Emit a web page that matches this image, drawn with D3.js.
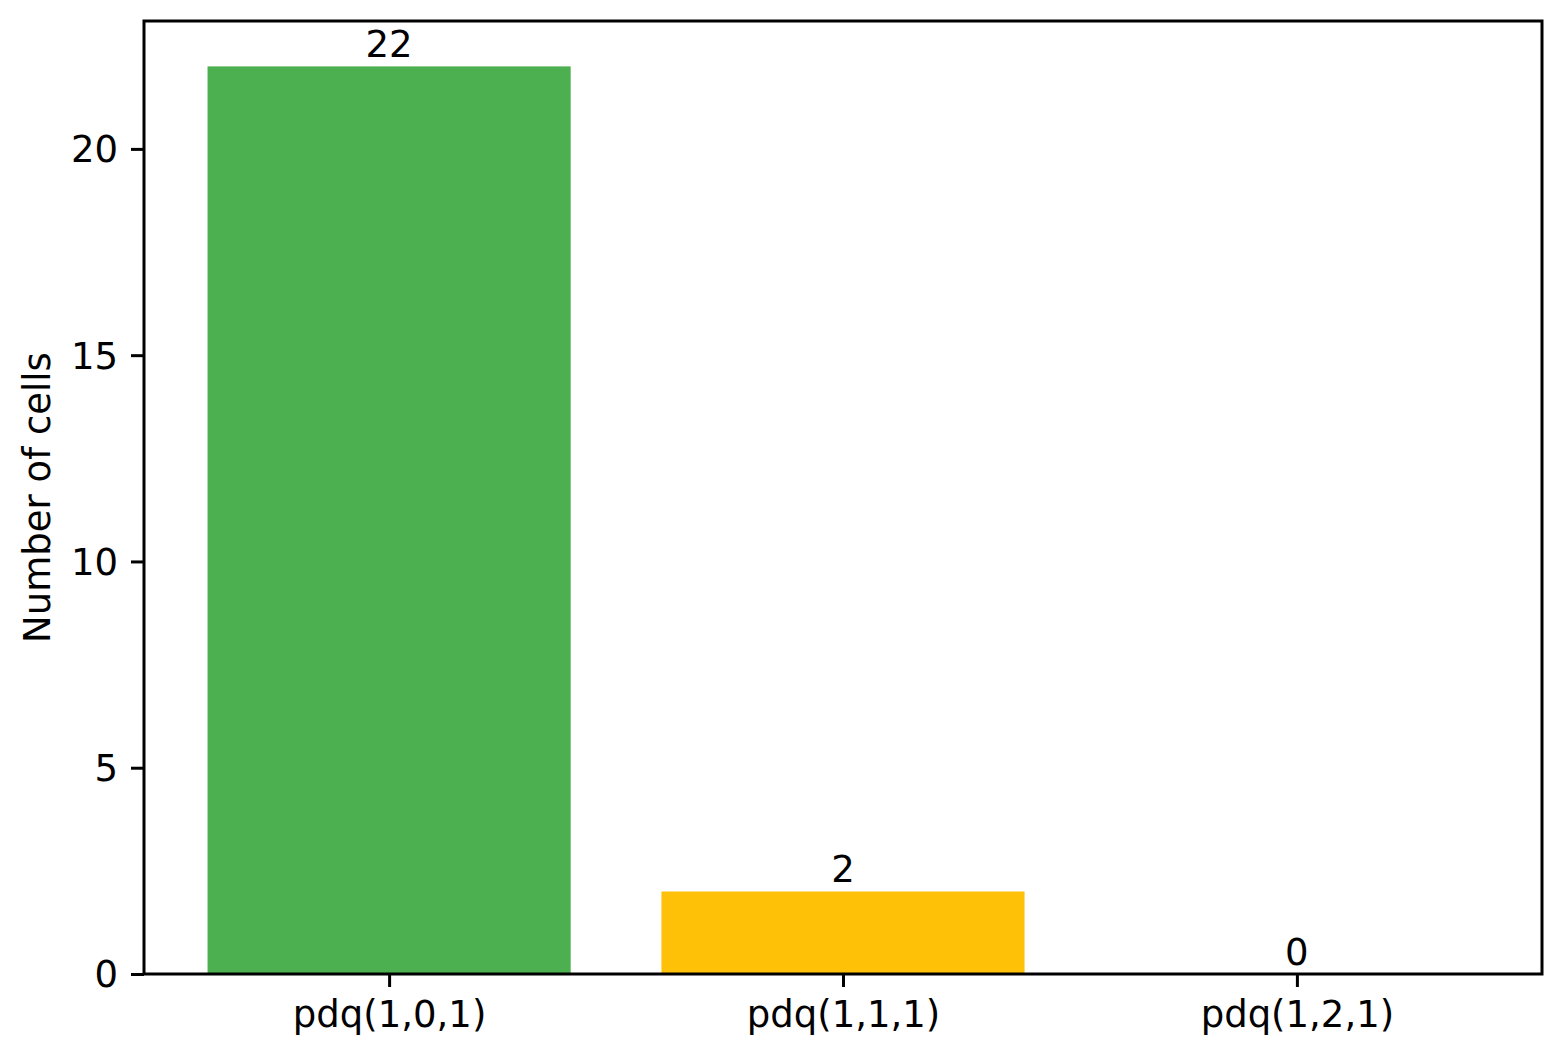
<!DOCTYPE html>
<html>
<head>
<meta charset="utf-8">
<script src="https://cdn.jsdelivr.net/npm/d3@7"></script>
<style>
  html, body { margin: 0; padding: 0; background: #fff; }
  svg { display: block; }
  text { font-family: "DejaVu Sans", sans-serif; fill: #000; }
</style>
</head>
<body>
<svg id="chart" width="1567" height="1060"></svg>
<script>
const categories = ["pdq(1,0,1)", "pdq(1,1,1)", "pdq(1,2,1)"];
const values = [22, 2, 0];
const barColors = ["#4CAF50", "#FFC107", "#F44336"];
const yTicks = [0, 5, 10, 15, 20];
const yLabel = "Number of cells";

const W = 1567, H = 1060;
const FS = 37;
const m = { left: 144, right: 1542, top: 21, bottom: 974 };
const svg = d3.select("#chart");

const x = d3.scaleLinear().domain([-0.54, categories.length - 1 + 0.54]).range([m.left, m.right]);
const y = d3.scaleLinear().domain([0, d3.max(values) * 1.05]).range([m.bottom, m.top]);
const barW = 0.8;

// bars
svg.append("g").selectAll("rect").data(values).join("rect")
  .attr("x", (d, i) => x(i - barW / 2))
  .attr("width", (d, i) => x(i + barW / 2) - x(i - barW / 2))
  .attr("y", d => y(d))
  .attr("height", d => y(0) - y(d))
  .attr("fill", (d, i) => barColors[i]);

// value labels
svg.append("g").selectAll("text").data(values).join("text")
  .attr("x", (d, i) => x(i))
  .attr("y", d => y(d) - 9)
  .attr("text-anchor", "middle")
  .attr("font-size", FS)
  .text(d => d);

// y axis
const yAxis = d3.axisLeft(y).tickValues(yTicks).tickSize(13).tickPadding(13).tickFormat(d3.format("d"));
const gy = svg.append("g").attr("transform", `translate(${m.left},0)`).call(yAxis);
gy.select(".domain").remove();
gy.selectAll(".tick line").attr("stroke", "#000").attr("stroke-width", 3);
gy.selectAll(".tick text").attr("font-size", FS).attr("font-family", "DejaVu Sans").attr("dy", "0.35em");

// x axis
const xAxis = d3.axisBottom(x).tickValues(d3.range(categories.length)).tickSize(13).tickPadding(13)
  .tickFormat(i => categories[i]);
const gx = svg.append("g").attr("transform", `translate(0,${m.bottom})`).call(xAxis);
gx.select(".domain").remove();
gx.selectAll(".tick line").attr("stroke", "#000").attr("stroke-width", 3);
gx.selectAll(".tick text").attr("font-size", FS).attr("font-family", "DejaVu Sans").attr("dy", "0.74em");

// frame
svg.append("rect")
  .attr("x", m.left).attr("y", m.top)
  .attr("width", m.right - m.left).attr("height", m.bottom - m.top)
  .attr("fill", "none").attr("stroke", "#000").attr("stroke-width", 3);

// y label
svg.append("text")
  .attr("transform", `translate(50,${(m.top + m.bottom) / 2}) rotate(-90)`)
  .attr("text-anchor", "middle")
  .attr("font-size", FS)
  .text(yLabel);
</script>
</body>
</html>
